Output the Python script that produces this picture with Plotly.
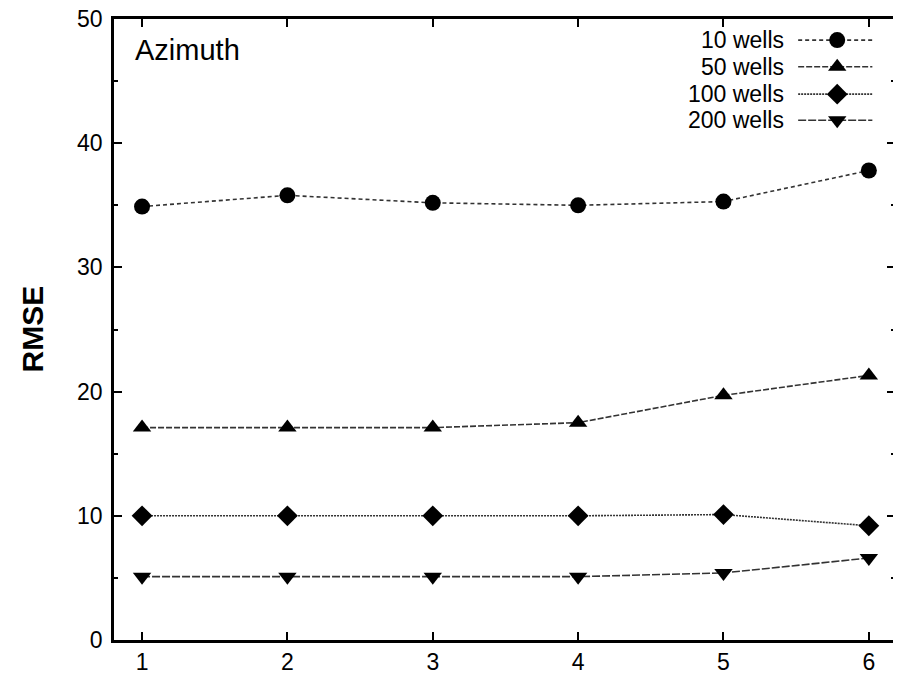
import plotly.graph_objects as go

x_vals = [1, 2, 3, 4, 5, 6]
wells_10 = [34.9, 35.8, 35.2, 35.0, 35.3, 37.8]
wells_50 = [17.1, 17.1, 17.1, 17.5, 19.7, 21.3]
wells_100 = [10.0, 10.0, 10.0, 10.0, 10.1, 9.2]
wells_200 = [5.1, 5.1, 5.1, 5.1, 5.4, 6.6]
series_names = ["10 wells", "50 wells", "100 wells", "200 wells"]
x_ticks = [1, 2, 3, 4, 5, 6]
y_ticks = [0, 10, 20, 30, 40, 50]

series = [wells_10, wells_50, wells_100, wells_200]
symbols = ["circle", "triangle-up", "diamond", "triangle-down"]
sizes = [16, 16, 16, 16]
dashes = ["4px,3px", "6px,2px", "2px,1px", "8px,2px"]

FONT = "Liberation Sans, Arial, sans-serif"

fig = go.Figure()
for name, vals, sym, sz, dsh in zip(series_names, series, symbols, sizes, dashes):
    fig.add_trace(go.Scatter(
        x=x_vals, y=vals, mode="lines+markers", name=name,
        line=dict(color="#333333", width=1.6, dash=dsh),
        marker=dict(symbol=sym, size=sz, color="black", line=dict(width=0)),
        showlegend=False,
    ))

# custom legend (text on the left, sample on the right), overlay axes 0..1
leg_y = [0.966, 0.923, 0.879, 0.837]
for name, yy, sym, sz, dsh in zip(series_names, leg_y, symbols, sizes, dashes):
    fig.add_trace(go.Scatter(
        x=[0.876, 0.971], y=[yy, yy], mode="lines",
        line=dict(color="#333333", width=1.6, dash=dsh),
        xaxis="x2", yaxis="y2", showlegend=False, hoverinfo="skip",
    ))
    fig.add_trace(go.Scatter(
        x=[0.926], y=[yy], mode="markers",
        marker=dict(symbol=sym, size=sz, color="black", line=dict(width=0)),
        xaxis="x2", yaxis="y2", showlegend=False, hoverinfo="skip",
    ))
    fig.add_annotation(x=0.860, y=yy, xref="x2", yref="y2", text=name,
                       showarrow=False, xanchor="right", yanchor="middle",
                       font=dict(family=FONT, size=23, color="black"))

fig.add_annotation(x=0.024, y=0.95, xref="paper", yref="paper", text="Azimuth",
                   showarrow=False, xanchor="left", yanchor="middle",
                   font=dict(family=FONT, size=29, color="black"))
fig.add_annotation(x=0, y=0.5, xref="paper", yref="paper", text="<b>RMSE</b>",
                   showarrow=False, xanchor="center", yanchor="middle",
                   xshift=-82, textangle=-90,
                   font=dict(family=FONT, size=30, color="black"))

fig.update_layout(
    width=901, height=682,
    margin=dict(l=106, r=14, t=11, b=50, autoexpand=False),
    plot_bgcolor="white", paper_bgcolor="white",
    font=dict(family=FONT, size=23, color="black"),
    xaxis=dict(range=[0.807, 6.18], tickvals=x_ticks, ticks="inside", ticklen=8,
               tickwidth=2, tickcolor="black", showline=True, linecolor="black",
               linewidth=2.5, mirror="ticks", showgrid=False, zeroline=False,
               automargin=False, ticklabeloverflow="allow", tickfont=dict(size=23)),
    yaxis=dict(range=[0, 50], tickvals=y_ticks, ticks="inside", ticklen=8,
               tickwidth=2, tickcolor="black", showline=True, linecolor="black",
               linewidth=2.5, mirror="ticks", showgrid=False, zeroline=False,
               minor=dict(dtick=5, ticks="inside", ticklen=4, tickcolor="black", tickwidth=1.5),
               automargin=False, ticklabeloverflow="allow", ticklabelstandoff=4,
               tickfont=dict(size=23)),
    xaxis2=dict(range=[0, 1], overlaying="x", visible=False, fixedrange=True),
    yaxis2=dict(range=[0, 1], overlaying="y", visible=False, fixedrange=True),
)

fig.write_html("out.html")
